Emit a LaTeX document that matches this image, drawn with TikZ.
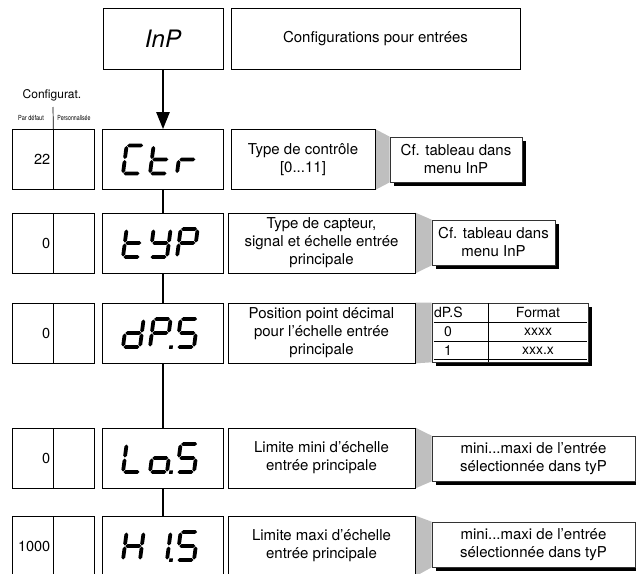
\documentclass[tikz,border=0pt]{standalone}
\usepackage{fontspec}
\setmainfont{TeX Gyre Heros}
\usetikzlibrary{arrows.meta,shadows,backgrounds}
\definecolor{linkgray}{gray}{0.75}
\newcommand\segg{0.5}
\newcommand\segt{1.9}
\newcommand\segW{17}
\newcommand\segH{28}
\newcommand\hsg[3]{\fill (#1+\segg,#3) -- (#1+\segg+\segt,#3+\segt) -- (#2-\segg-\segt,#3+\segt) -- (#2-\segg,#3) -- (#2-\segg-\segt,#3-\segt) -- (#1+\segg+\segt,#3-\segt) -- cycle;}
\newcommand\vsg[3]{\fill (#1,#2+\segg) -- (#1+\segt,#2+\segg+\segt) -- (#1+\segt,#3-\segg-\segt) -- (#1,#3-\segg) -- (#1-\segt,#3-\segg-\segt) -- (#1-\segt,#2+\segg+\segt) -- cycle;}
\newcommand\sgA{\hsg{0}{\segW}{\segH}}
\newcommand\sgB{\vsg{\segW}{\segH/2}{\segH}}
\newcommand\sgC{\vsg{\segW}{0}{\segH/2}}
\newcommand\sgD{\hsg{0}{\segW}{0}}
\newcommand\sgE{\vsg{0}{0}{\segH/2}}
\newcommand\sgF{\vsg{0}{\segH/2}{\segH}}
\newcommand\sgG{\hsg{0}{\segW}{\segH/2}}
\newcommand\sgP{\fill (\segW+2.2,-\segt) rectangle ++(3.6,3.6);}
\newcommand\lcdcell[3]{\begin{scope}[shift={(#1,#2)},yscale=-1,xslant=-0.13]
\foreach \s in {#3} {\csname sg\s\endcsname}
\end{scope}}
\newcommand\lcdword[4]{\lcdcell{123}{#1}{#2}\lcdcell{150}{#1}{#3}\lcdcell{177}{#1}{#4}}
\begin{document}
\begin{tikzpicture}[x=1pt,y=-1pt,
  box/.style={draw=black,line width=0.7pt,inner sep=0pt,align=center,fill=white},
  desctext/.style={font=\fontsize{15}{18}\selectfont},
  desc/.style={box,desctext,minimum width=187pt,minimum height=60pt},
  disp/.style={box,minimum width=121pt,minimum height=60pt},
  cfgcell/.style={box,minimum width=41pt,minimum height=60pt},
  numtxt/.style={font=\fontsize{14.5}{16}\selectfont,inner sep=0pt,anchor=east},
  callout/.style={box,desctext,draw=black!80,line width=0.6pt,minimum height=45pt,
    drop shadow={shadow xshift=4pt,shadow yshift=-4pt,fill=black,opacity=1}},
  conn/.style={line width=2.4pt},
  tabtxt/.style={font=\fontsize{14}{16}\selectfont,inner sep=0pt},
  tabline/.style={line width=0.7pt}]
\useasboundingbox (0,0) rectangle (636,573);

% header
\node[box,minimum width=120pt,minimum height=61pt,font=\fontsize{24}{28}\selectfont\itshape] (inp) at (163,38.5) {InP};
\node[box,desctext,minimum width=289pt,minimum height=61pt] (cfg) at (375.5,38.5) {Configurations pour entrées};
\node[font=\fontsize{12}{14}\selectfont] (hdr) at (52,95) {Configurat.};
\node[font=\fontsize{7}{8}\selectfont] (pdef) at (31,118) {\scalebox{0.8}[1]{Par défaut}};
\node[font=\fontsize{7}{8}\selectfont] (pers) at (74,118) {\scalebox{0.75}[1]{Personnalisée}};
\coordinate (divtop) at (53,107);

% row 1
\node[cfgcell] (d1) at (32.5,159.5) {};
\node[cfgcell] (p1) at (73.5,159.5) {};
\node[numtxt] (v1) at (50.5,159.5) {22};
\node[disp] (s1) at (163,159.5) {};
\node[box,desctext,minimum width=144pt,minimum height=60pt] (t1) at (303,159.5) {Type de contrôle\\{}[0...11]};
\node[callout,minimum width=132pt] (c1) at (456,159.5) {Cf. tableau dans\\menu InP};

% row 2
\node[cfgcell] (d2) at (32.5,243) {};
\node[cfgcell] (p2) at (73.5,243) {};
\node[numtxt] (v2) at (50.5,243) {0};
\node[disp] (s2) at (163,243) {};
\node[desc] (t2) at (321.5,243) {Type de capteur,\\signal et échelle entrée\\principale};
\node[callout,minimum width=123pt] (c2) at (493.5,242.5) {Cf. tableau dans\\menu InP};

% row 3
\node[cfgcell] (d3) at (32.5,333) {};
\node[cfgcell] (p3) at (73.5,333) {};
\node[numtxt] (v3) at (50.5,333) {0};
\node[disp] (s3) at (163,333) {};
\node[desc] (t3) at (321.5,333) {Position point décimal\\pour l’échelle entrée\\principale};
\node[box,draw=black!80,line width=0.6pt,minimum width=156pt,minimum height=59pt,
  drop shadow={shadow xshift=4pt,shadow yshift=-4pt,fill=black,opacity=1}] (tab) at (510,332.5) {};
\draw[tabline] (488,303) -- (488,362);
\draw[tabline] (433.5,322) -- (586.5,322);
\draw[tabline] (433.5,341) -- (586.5,341);
\draw[tabline] (433.5,359) -- (586.5,359);
\node[tabtxt,anchor=west] (th1) at (434,312.5) {dP.S};
\node[tabtxt] (th2) at (538,312.5) {Format};
\node[tabtxt] (ta1) at (448,332) {0};
\node[tabtxt] (ta2) at (538,332) {xxxx};
\node[tabtxt] (tb1) at (448,350.5) {1};
\node[tabtxt] (tb2) at (538,350.5) {xxx.x};

% row 4
\node[cfgcell] (d4) at (32.5,458) {};
\node[cfgcell] (p4) at (73.5,458) {};
\node[numtxt] (v4) at (50.5,458) {0};
\node[disp] (s4) at (163,458) {};
\node[desc] (t4) at (321.5,458) {Limite mini d’échelle\\entrée principale};
\node[callout,minimum width=203pt] (c4) at (533.5,458.5) {mini...maxi de l’entrée\\sélectionnée dans tyP};

% row 5
\node[cfgcell] (d5) at (32.5,546) {};
\node[cfgcell] (p5) at (73.5,546) {};
\node[numtxt] (v5) at (50.5,546) {1000};
\node[disp] (s5) at (163,546) {};
\node[desc] (t5) at (321.5,546) {Limite maxi d’échelle\\entrée principale};
\node[callout,minimum width=203pt] (c5) at (533.5,544.5) {mini...maxi de l’entrée\\sélectionnée dans tyP};

% gray links
\begin{scope}[on background layer]
\fill[linkgray] (t1.north east) -- (c1.north west) -- (c1.south west) -- (t1.south east) -- cycle;
\fill[linkgray] (t2.north east) -- (c2.north west) -- (c2.south west) -- (t2.south east) -- cycle;
\fill[linkgray] (t3.north east) -- (tab.north west) -- (tab.south west) -- (t3.south east) -- cycle;
\fill[linkgray] (t4.north east) -- (c4.north west) -- (c4.south west) -- (t4.south east) -- cycle;
\fill[linkgray] (t5.north east) -- (c5.north west) -- (c5.south west) -- (t5.south east) -- cycle;
\end{scope}

% connectors
\draw[line width=0.7pt] (divtop) -- (d1.north east);
\draw[conn,-{Triangle[length=17pt,width=13pt]}] (inp.south) -- (s1.north);
\draw[conn] (s1.south) -- (s2.north);
\draw[conn] (s2.south) -- (s3.north);
\draw[conn] (s3.south) -- (s4.north);
\draw[conn] (s4.south) -- (s5.north);

% LCD displays
\lcdword{173.5}{A,D,E,F}{D,E,F,G}{E,G}
\lcdword{257}{D,E,F,G}{B,C,D,F,G}{A,B,E,F,G}
\lcdword{347}{B,C,D,E,G}{A,B,E,F,G,P}{A,C,D,F,G}
\lcdword{472}{D,E,F}{C,D,E,G,P}{A,C,D,F,G}
\lcdword{560}{B,C,E,F,G}{B,C,P}{A,C,D,F,G}
\end{tikzpicture}
\end{document}
